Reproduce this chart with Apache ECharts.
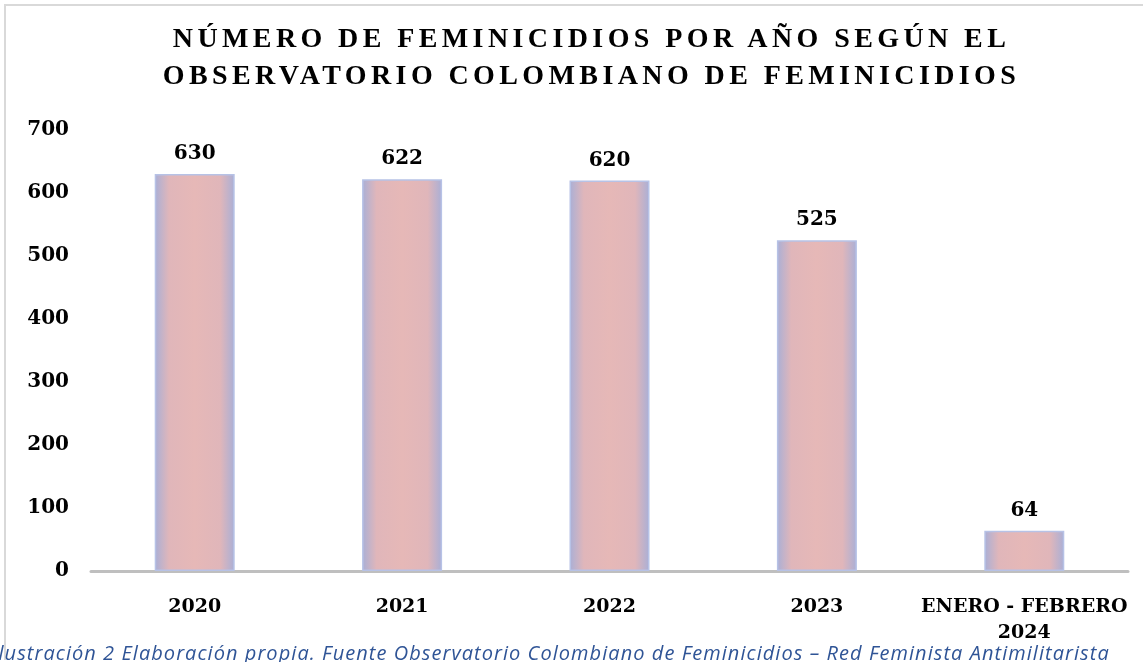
<!DOCTYPE html>
<html>
<head>
<meta charset="utf-8">
<script src="https://cdn.jsdelivr.net/npm/echarts@6/dist/echarts.min.js"></script>
<style>
  html, body { margin: 0; padding: 0; background: #fff; }
  #wrap { position: relative; width: 1143px; height: 662px; overflow: hidden; }
  #chart { position: absolute; left: 0; top: 0; width: 1143px; height: 662px; }
  .title {
    position: absolute; left: 0; width: 1183px; top: 19px;
    text-align: center; font-family: "Liberation Serif", serif; font-weight: bold;
    font-size: 28px; line-height: 37px; letter-spacing: 4.4px; color: #000;
  }
  .caption {
    position: absolute; left: -8px; top: 639px; white-space: nowrap;
    font-family: "Open Sans", sans-serif; font-style: italic; font-size: 20px;
    letter-spacing: 1.05px; color: #2F5496;
  }
</style>
</head>
<body>
<div id="wrap">
  <div id="chart"></div>
  <div class="title">NÚMERO DE FEMINICIDIOS POR AÑO SEGÚN EL<br>OBSERVATORIO COLOMBIANO DE FEMINICIDIOS</div>
  <div class="caption">Ilustración 2 Elaboración propia. Fuente Observatorio Colombiano de Feminicidios – Red Feminista Antimilitarista</div>
</div>
<script>
// datos
const categorias = ['2020', '2021', '2022', '2023', 'ENERO - FEBRERO\n2024']
const feminicidios = [630, 622, 620, 525, 64]

const chart = echarts.init(document.getElementById('chart'))

const labelFont = {
  fontFamily: 'DejaVu Serif',
  fontWeight: 'bold',
  fontSize: 20,
  color: '#000'
}

const option = {
  animation: false,
  grid: {
    left: 91,
    right: 15,
    top: 130,
    bottom: 91
  },
  xAxis: {
    type: 'category',
    data: categorias,
    axisLine: { lineStyle: { color: '#BFBFBF', width: 3 } },
    axisTick: { show: false },
    axisLabel: Object.assign({ margin: 23, lineHeight: 26, interval: 0 }, labelFont, { fontSize: 19 })
  },
  yAxis: {
    type: 'value',
    min: 0,
    max: 700,
    interval: 100,
    splitLine: { show: false },
    axisLine: { show: false },
    axisTick: { show: false },
    axisLabel: Object.assign({ margin: 22 }, labelFont)
  },
  series: [
    {
      type: 'bar',
      data: feminicidios,
      barWidth: 80,
      itemStyle: {
        color: new echarts.graphic.LinearGradient(0, 0, 1, 0, [
          { offset: 0, color: '#A9AFD6' },
          { offset: 0.18, color: '#E0B6BA' },
          { offset: 0.5, color: '#E6B8B7' },
          { offset: 0.82, color: '#E0B6BA' },
          { offset: 1, color: '#A9AFD6' }
        ]),
        borderColor: '#B7C2E6',
        borderWidth: 1.5
      },
      label: Object.assign({
        show: true,
        position: 'top',
        distance: 10
      }, labelFont)
    }
  ],
  graphic: [
    {
      type: 'polyline',
      shape: { points: [[5, 660], [5, 5], [1143, 5]] },
      style: { stroke: '#D9D9D9', lineWidth: 2, fill: null },
      silent: true
    }
  ]
}

chart.setOption(option)
</script>
</body>
</html>
